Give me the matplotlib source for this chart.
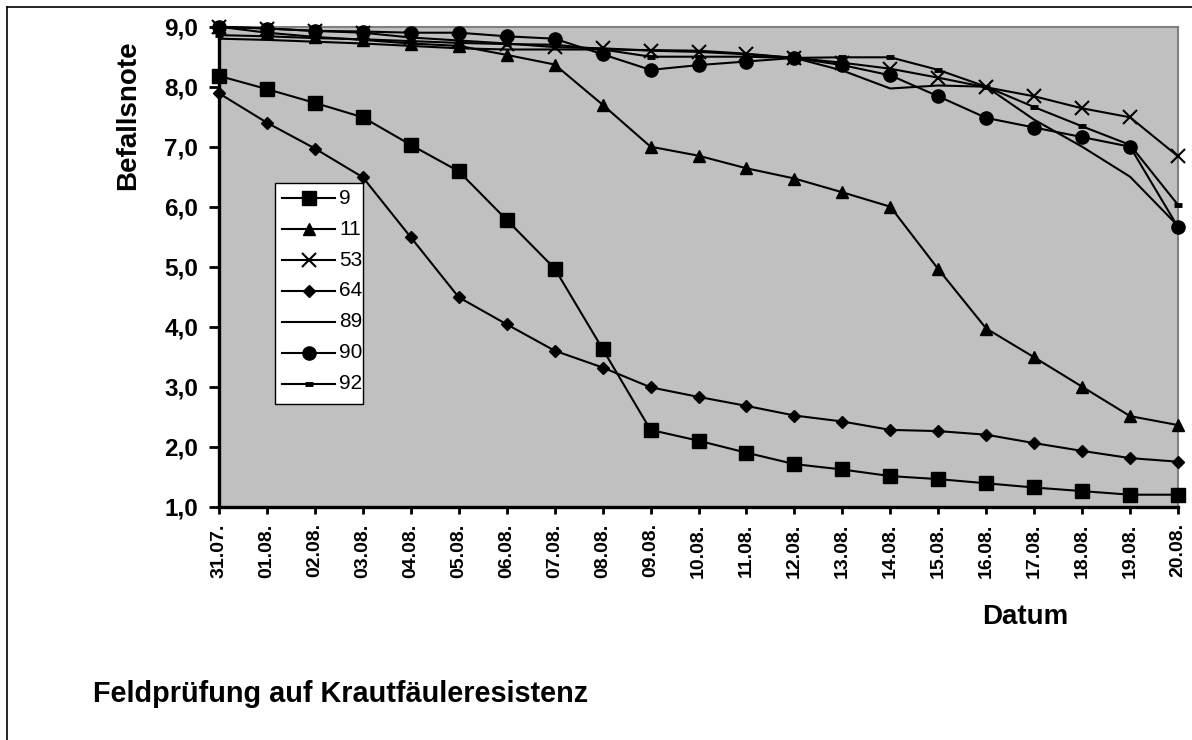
import matplotlib
matplotlib.use("Agg")
import matplotlib.pyplot as plt
from matplotlib.lines import Line2D
from matplotlib.patches import Rectangle

plt.rcParams['font.family'] = ['Liberation Sans', 'DejaVu Sans']

# ---------------- data ----------------
dates = ["31.07.", "01.08.", "02.08.", "03.08.", "04.08.", "05.08.", "06.08.",
         "07.08.", "08.08.", "09.08.", "10.08.", "11.08.", "12.08.", "13.08.",
         "14.08.", "15.08.", "16.08.", "17.08.", "18.08.", "19.08.", "20.08."]

s9 = [8.18, 7.96, 7.73, 7.49, 7.03, 6.59, 5.78, 4.97, 3.63, 2.28, 2.10,
      1.90, 1.71, 1.62, 1.51, 1.46, 1.39, 1.32, 1.26, 1.20, 1.20]
s11 = [9.00, 8.90, 8.83, 8.78, 8.72, 8.68, 8.53, 8.37, 7.70, 7.00, 6.85,
       6.64, 6.47, 6.24, 6.00, 4.96, 3.97, 3.49, 3.00, 2.51, 2.36]
s53 = [9.00, 8.97, 8.93, 8.90, 8.82, 8.77, 8.72, 8.66, 8.64, 8.60, 8.58,
       8.54, 8.48, 8.40, 8.30, 8.15, 7.99, 7.84, 7.64, 7.49, 6.84]
s64 = [7.89, 7.40, 6.97, 6.49, 5.49, 4.49, 4.04, 3.60, 3.32, 2.99, 2.83,
       2.68, 2.52, 2.42, 2.28, 2.26, 2.20, 2.06, 1.93, 1.81, 1.75]
s89 = [8.80, 8.78, 8.75, 8.72, 8.68, 8.64, 8.62, 8.62, 8.62, 8.61, 8.60,
       8.55, 8.48, 8.27, 7.97, 8.02, 8.00, 7.45, 7.00, 6.50, 5.68]
s90 = [9.00, 8.97, 8.93, 8.92, 8.90, 8.90, 8.84, 8.80, 8.54, 8.28, 8.36,
       8.42, 8.48, 8.36, 8.19, 7.84, 7.48, 7.32, 7.16, 7.00, 5.66]
s92 = [8.86, 8.84, 8.81, 8.79, 8.76, 8.73, 8.71, 8.70, 8.62, 8.50, 8.50,
       8.50, 8.48, 8.49, 8.49, 8.28, 8.00, 7.66, 7.34, 7.03, 6.03]

series_labels = ["9", "11", "53", "64", "89", "90", "92"]
yticks = [1, 2, 3, 4, 5, 6, 7, 8, 9]
ytick_labels = ["1,0", "2,0", "3,0", "4,0", "5,0", "6,0", "7,0", "8,0", "9,0"]

# ---------------- styles ----------------
styles = [
    dict(marker='s', ms=9.5),
    dict(marker='^', ms=8.5),
    dict(marker='x', ms=9.5, mew=1.5),
    dict(marker='D', ms=6.5),
    dict(marker=None),
    dict(marker='o', ms=9.5),
    dict(marker='_', ms=6, mew=3.5),
]
values = [s9, s11, s53, s64, s89, s90, s92]

W, H = 1192, 740
fig = plt.figure(figsize=(W / 100, H / 100), dpi=100)


def fx(px):
    return px / W


def fy(py):
    return 1 - py / H


# outer chart border (top and left visible)
fig.add_artist(Line2D([fx(7), fx(1192)], [fy(6.5), fy(6.5)], color='black',
                      lw=1.2, transform=fig.transFigure))
fig.add_artist(Line2D([fx(7), fx(7)], [fy(6.5), fy(740)], color='black',
                      lw=1.2, transform=fig.transFigure))

ax = fig.add_axes([fx(219), fy(506.7), fx(1178) - fx(219), fy(26.7) - fy(506.7)])
ax.set_facecolor('#C0C0C0')

xs = list(range(len(dates)))
for lab, vals, st in zip(series_labels, values, styles):
    ax.plot(xs, vals, color='black', lw=1.5, mfc='black', mec='black',
            clip_on=False, zorder=3, label=lab, **st)

ax.set_xlim(0, len(dates) - 1)
ax.set_ylim(1, 9)
ax.set_xticks(xs)
ax.set_xticklabels(dates, rotation=90, fontsize=14, fontweight='bold')
ax.set_yticks(yticks)
ax.set_yticklabels(ytick_labels, fontsize=17.5, fontweight='bold')
ax.tick_params(axis='y', direction='out', length=7, width=2, pad=8)
ax.tick_params(axis='x', direction='out', length=5, width=2, pad=7)

for side in ('left', 'bottom'):
    ax.spines[side].set_linewidth(2.4)
    ax.spines[side].set_color('black')
    ax.spines[side].set_zorder(4)
for side in ('top', 'right'):
    ax.spines[side].set_linewidth(1.5)
    ax.spines[side].set_color('#808080')

# axis titles and chart title
fig.text(fx(128), fy(115), "Befallsnote", rotation=90, ha='center', va='center',
         fontsize=20, fontweight='bold')
fig.text(fx(1025), fy(617), "Datum", ha='center', va='center',
         fontsize=20, fontweight='bold')
fig.text(fx(93), fy(694), "Feldprüfung auf Krautfäuleresistenz", ha='left',
         va='center', fontsize=20.8, fontweight='bold')

# legend box (manual, Excel-like)
fig.add_artist(Rectangle((fx(275), fy(404)), fx(363) - fx(275), fy(183) - fy(404),
                         facecolor='white', edgecolor='black', lw=1.0,
                         transform=fig.transFigure, zorder=5))
for i, (lab, st) in enumerate(zip(series_labels, styles)):
    yy = 198.3 + 30.9 * i
    fig.add_artist(Line2D([fx(282), fx(335)], [fy(yy), fy(yy)], color='black',
                          lw=1.5, transform=fig.transFigure, zorder=6))
    if st.get('marker'):
        stm = dict(st)
        m = stm.pop('marker')
        fig.add_artist(Line2D([fx(308.5)], [fy(yy)], color='black', marker=m,
                              mfc='black', mec='black', ls='none',
                              transform=fig.transFigure, zorder=7, **stm))
    fig.text(fx(339), fy(yy), lab, ha='left', va='center', fontsize=15,
             zorder=8)

fig.savefig("out.png", dpi=100)
